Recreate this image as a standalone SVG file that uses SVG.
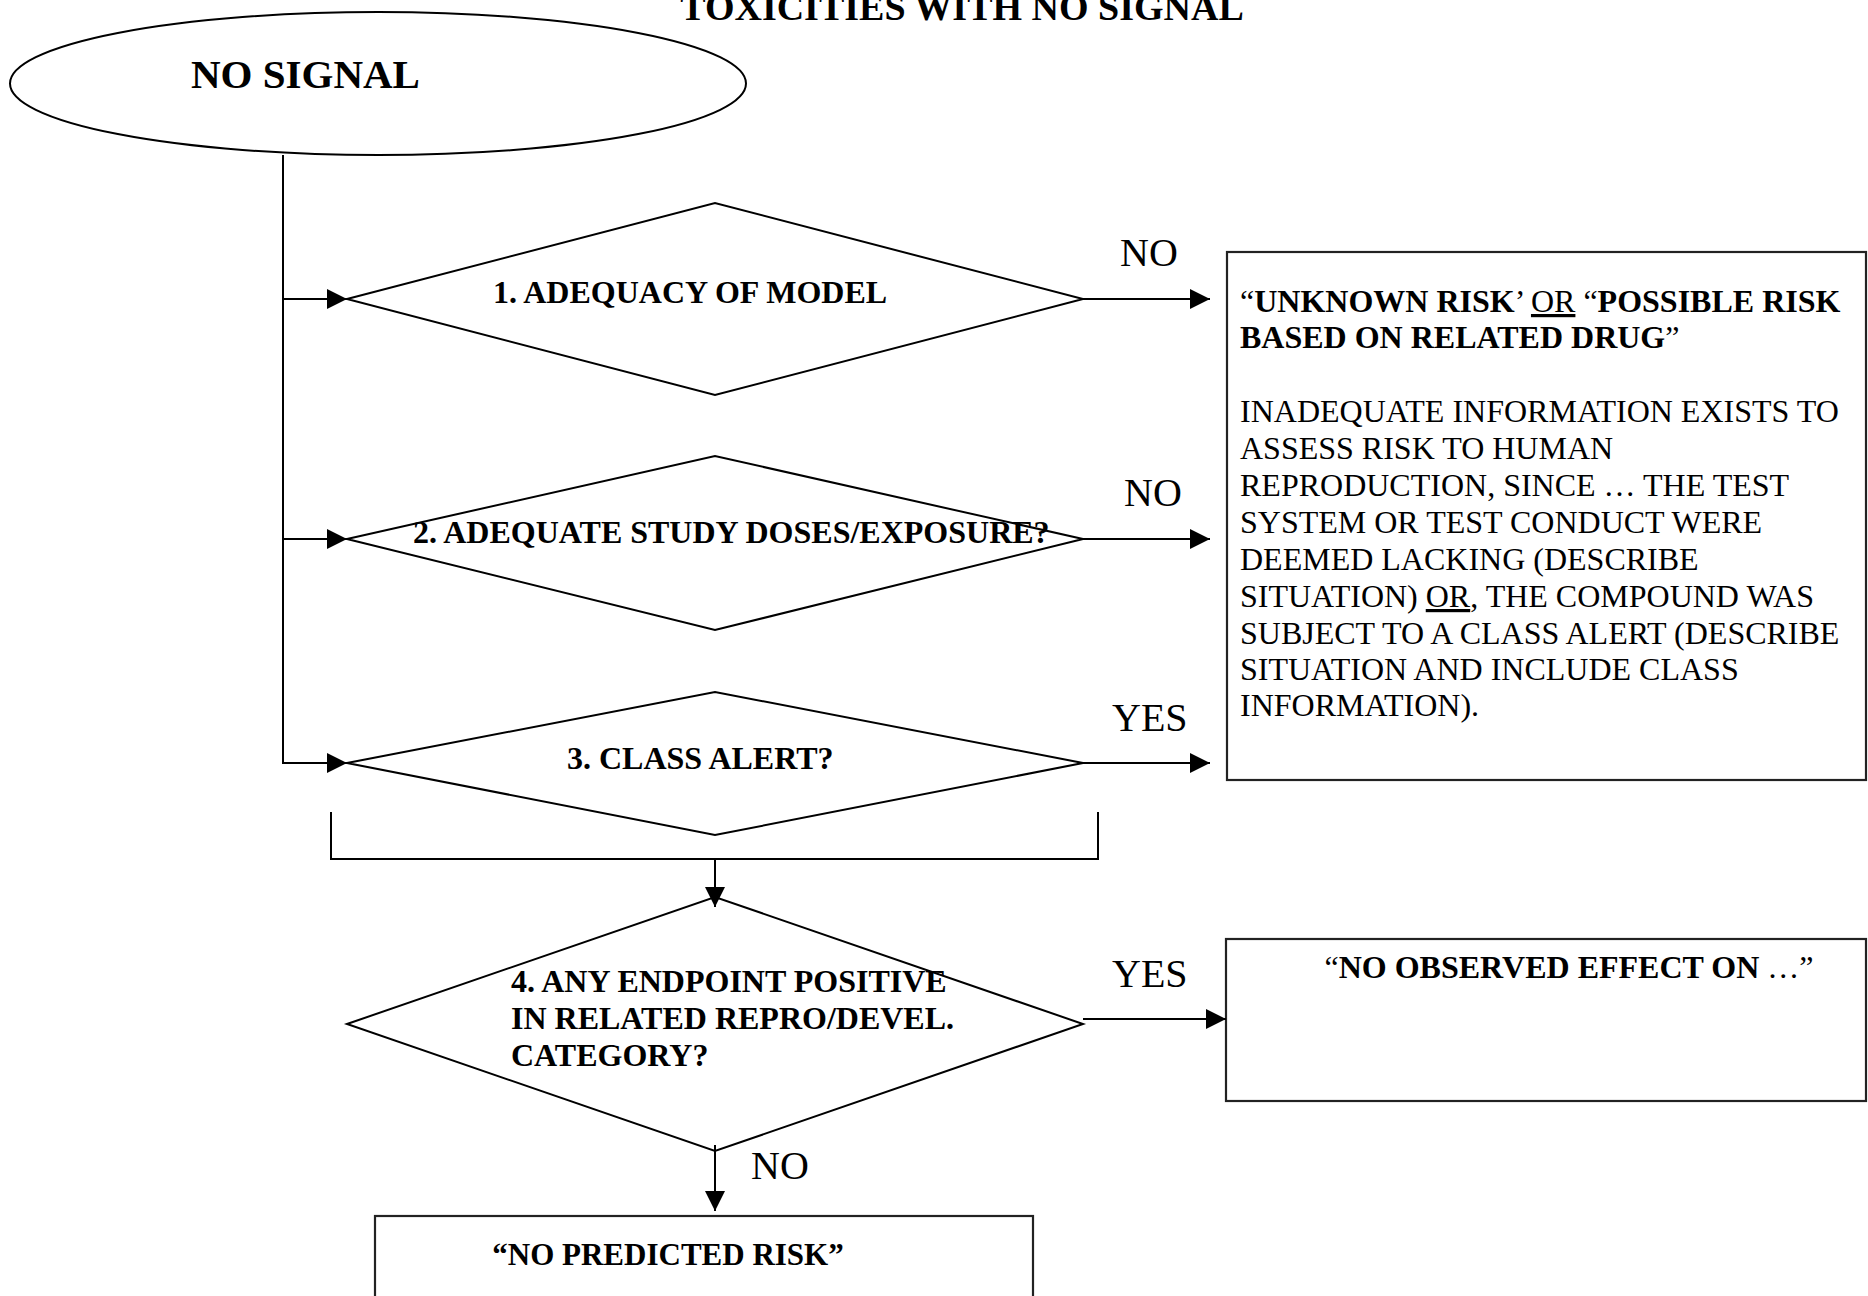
<svg xmlns="http://www.w3.org/2000/svg" width="1868" height="1296" viewBox="0 0 1868 1296">
<style>
.shape{fill:#fff;stroke:#000;stroke-width:2}
.box{fill:#fff;stroke:#222;stroke-width:2.2}
.conn{fill:none;stroke:#000;stroke-width:2}
text{font-family:"Liberation Serif","Times New Roman",serif;fill:#000}
.b{font-weight:bold;font-size:32px}
.r{font-size:32px}
.lbl{font-size:40px}
.title{font-weight:bold;font-size:38px}
.n{font-weight:normal}
.u{text-decoration:underline}
</style>
<defs>
<marker id="ah" markerUnits="userSpaceOnUse" markerWidth="22" markerHeight="22" refX="20" refY="10" orient="auto">
<path d="M0,0 L20,10 L0,20 z" fill="#000"/>
</marker>
</defs>
<rect width="1868" height="1296" fill="#fff"/>
<text class="title" x="962" y="20" text-anchor="middle">TOXICITIES WITH NO SIGNAL</text>

<g id="start">
<ellipse class="shape" cx="378" cy="83.5" rx="368" ry="71.5"/>
<text class="b" x="191" y="88" style="font-size:41px">NO SIGNAL</text>
</g>

<g id="d1">
<polygon class="shape" points="347,299 715,203 1083,299 715,395"/>
<text class="b" x="493" y="303">1. ADEQUACY OF MODEL</text>
</g>
<g id="d2">
<polygon class="shape" points="347,539 715,456 1083,539 715,630"/>
<text class="b" x="413" y="543">2. ADEQUATE STUDY DOSES/EXPOSURE?</text>
</g>
<g id="d3">
<polygon class="shape" points="347,763 715,692 1083,763 715,835"/>
<text class="b" x="567" y="769">3. CLASS ALERT?</text>
</g>
<g id="d4">
<polygon class="shape" points="347,1024 715,897 1083,1024 715,1151"/>
<text class="b" x="511" y="992">4. ANY ENDPOINT POSITIVE</text>
<text class="b" x="511" y="1029">IN RELATED REPRO/DEVEL.</text>
<text class="b" x="511" y="1066">CATEGORY?</text>
</g>

<g id="box1">
<rect class="box" x="1227" y="252" width="639" height="528"/>
<text class="r" x="1240" y="312">“<tspan class="b">UNKNOWN RISK</tspan>’ <tspan class="u">OR</tspan> “<tspan class="b">POSSIBLE RISK</tspan></text>
<text class="b" x="1240" y="348">BASED ON RELATED DRUG<tspan class="n">”</tspan></text>
<text class="r" x="1240" y="422">INADEQUATE INFORMATION EXISTS TO</text>
<text class="r" x="1240" y="459">ASSESS RISK TO HUMAN</text>
<text class="r" x="1240" y="496">REPRODUCTION, SINCE … THE TEST</text>
<text class="r" x="1240" y="533">SYSTEM OR TEST CONDUCT WERE</text>
<text class="r" x="1240" y="570">DEEMED LACKING (DESCRIBE</text>
<text class="r" x="1240" y="607">SITUATION) <tspan class="u">OR</tspan>, THE COMPOUND WAS</text>
<text class="r" x="1240" y="644">SUBJECT TO A CLASS ALERT (DESCRIBE</text>
<text class="r" x="1240" y="680">SITUATION AND INCLUDE CLASS</text>
<text class="r" x="1240" y="716">INFORMATION).</text>
</g>

<g id="box2">
<rect class="box" x="1226" y="939" width="640" height="162"/>
<text class="r" x="1569" y="978" text-anchor="middle">“<tspan class="b">NO OBSERVED EFFECT ON</tspan> …”</text>
</g>

<g id="box3">
<rect class="box" x="375" y="1216" width="658" height="100"/>
<text class="b" x="668" y="1265" text-anchor="middle" style="font-size:31px">“NO PREDICTED RISK”</text>
</g>

<g id="connectors">
<polyline class="conn" points="283,155 283,763 347,763" marker-end="url(#ah)"/>
<line class="conn" x1="283" y1="299" x2="347" y2="299" marker-end="url(#ah)"/>
<line class="conn" x1="283" y1="539" x2="347" y2="539" marker-end="url(#ah)"/>
<line class="conn" x1="1083" y1="299" x2="1210" y2="299" marker-end="url(#ah)"/>
<line class="conn" x1="1083" y1="539" x2="1210" y2="539" marker-end="url(#ah)"/>
<line class="conn" x1="1083" y1="763" x2="1210" y2="763" marker-end="url(#ah)"/>
<polyline class="conn" points="331,812 331,859 1098,859 1098,812"/>
<line class="conn" x1="715" y1="859" x2="715" y2="907" marker-end="url(#ah)"/>
<line class="conn" x1="1083" y1="1019" x2="1226" y2="1019" marker-end="url(#ah)"/>
<line class="conn" x1="715" y1="1145" x2="715" y2="1211" marker-end="url(#ah)"/>
<text class="lbl" x="1120" y="266">NO</text>
<text class="lbl" x="1124" y="506">NO</text>
<text class="lbl" x="1112" y="731">YES</text>
<text class="lbl" x="1112" y="987">YES</text>
<text class="lbl" x="751" y="1179">NO</text>
</g>
</svg>
